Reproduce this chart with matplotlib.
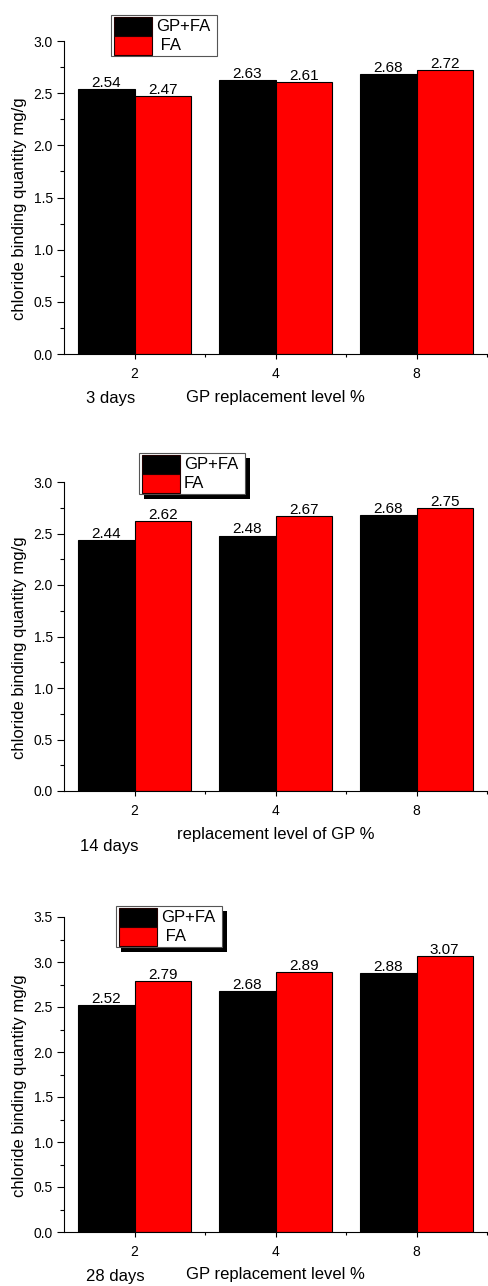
"""Chloride binding quantity vs GP replacement level at 3, 14 and 28 days."""

import numpy as np
import matplotlib.pyplot as plt
from matplotlib.patches import Rectangle
from matplotlib.ticker import MultipleLocator, FixedLocator, FormatStrFormatter

plt.rcParams['font.family'] = ['Liberation Sans', 'DejaVu Sans']

W, H = 488, 1286  # figure size in pixels (dpi 100)

LEVELS = ['2', '4', '8']
COLORS = {'GP+FA': '#000000', 'FA': '#ff0000'}

GPFA_3D = [2.54, 2.63, 2.68]
FA_3D = [2.47, 2.61, 2.72]

GPFA_14D = [2.44, 2.48, 2.68]
FA_14D = [2.62, 2.67, 2.75]

GPFA_28D = [2.52, 2.68, 2.88]
FA_28D = [2.79, 2.89, 3.07]

YLABEL = 'chloride binding quantity mg/g'

# layout of each panel, pixel units measured from the top-left corner
PANELS = [
    dict(gpfa=GPFA_3D, fa=FA_3D, top=41, bottom=354, ymax=3.0,
         legend=(111, 15), fa_label=' FA', shadow=False,
         xlabel='GP replacement level %', xlabel_pos=(186, 397),
         day='3 days', day_pos=(86, 399)),
    dict(gpfa=GPFA_14D, fa=FA_14D, top=482, bottom=791, ymax=3.0,
         legend=(139, 453), fa_label='FA', shadow=True,
         xlabel='replacement level of GP %', xlabel_pos=(177, 834),
         day='14 days', day_pos=(80, 846)),
    dict(gpfa=GPFA_28D, fa=FA_28D, top=917, bottom=1232, ymax=3.5,
         legend=(116, 906), fa_label=' FA', shadow=True,
         xlabel='GP replacement level %', xlabel_pos=(186, 1275),
         day='28 days', day_pos=(86, 1277)),
]

AX_LEFT, AX_RIGHT = 64, 487


def px(x, y):
    return x / W, 1 - y / H


def legend_box(fig, left, top, fa_label, shadow):
    # hand-built legend: frame, two swatches, labels
    w, h = 106, 41
    x0, y0 = px(left, top + h)
    fw, fh = w / W, h / H
    if shadow:
        sx, sy = px(left + 5, top + h + 5)
        fig.add_artist(Rectangle((sx, sy), fw, fh, transform=fig.transFigure,
                                 facecolor='k', edgecolor='k', lw=0))
    fig.add_artist(Rectangle((x0, y0), fw, fh, transform=fig.transFigure,
                             facecolor='white', edgecolor='#555555', lw=0.8))
    rows = [('GP+FA', 'GP+FA', top + 2), ('FA', fa_label, top + 21)]
    for key, label, ry in rows:
        rx, rb = px(left + 3, ry + 19)
        fig.add_artist(Rectangle((rx, rb), 38 / W, 19 / H, transform=fig.transFigure,
                                 facecolor=COLORS[key], edgecolor='#200000', lw=0.8))
        tx, ty = px(left + 45, ry + 9.5)
        fig.text(tx, ty, label, ha='left', va='center', fontsize=12)


def draw_panel(fig, p):
    ax = fig.add_axes([AX_LEFT / W, 1 - p['bottom'] / H,
                       (AX_RIGHT - AX_LEFT) / W, (p['bottom'] - p['top']) / H])
    x = np.arange(len(LEVELS))
    width = 0.4

    for offset, key, vals in [(-width / 2, 'GP+FA', p['gpfa']), (width / 2, 'FA', p['fa'])]:
        ax.bar(x + offset, vals, width, color=COLORS[key], edgecolor='k', linewidth=0.8)
        for xi, v in zip(x + offset, vals):
            ax.annotate(f'{v:.2f}', (xi, v), xytext=(0, 1.5), textcoords='offset points',
                        ha='center', va='baseline', fontsize=11)

    ax.set_xlim(-0.5, 2.5)
    ax.set_ylim(0, p['ymax'])
    for side in ('top', 'right'):
        ax.spines[side].set_visible(False)
    for side in ('left', 'bottom'):
        ax.spines[side].set_linewidth(0.8)

    ax.set_xticks(x, LEVELS)
    ax.xaxis.set_minor_locator(FixedLocator([0.5, 1.5, 2.5]))
    ax.yaxis.set_major_locator(MultipleLocator(0.5))
    ax.yaxis.set_minor_locator(MultipleLocator(0.25))
    ax.yaxis.set_major_formatter(FormatStrFormatter('%.1f'))
    ax.tick_params(axis='x', which='major', length=3.6, width=0.8, pad=6, labelsize=10)
    ax.tick_params(axis='x', which='minor', length=2.4, width=0.8)
    ax.tick_params(axis='y', which='major', length=5, width=0.8, pad=3, labelsize=10)
    ax.tick_params(axis='y', which='minor', length=3, width=0.8)

    # y label sits a little below the middle of the axis
    ax.set_ylabel(YLABEL, fontsize=12)
    h = p['bottom'] - p['top']
    ax.yaxis.set_label_coords(-0.088, 0.5 - 11 / h)

    fig.text(*px(*p['xlabel_pos']), p['xlabel'], ha='left', va='center', fontsize=12)
    fig.text(*px(*p['day_pos']), p['day'], ha='left', va='center', fontsize=12)
    legend_box(fig, *p['legend'], p['fa_label'], p['shadow'])


def main():
    fig = plt.figure(figsize=(W / 100, H / 100), dpi=100)
    for p in PANELS:
        draw_panel(fig, p)
    fig.savefig('out.png', dpi=100)
    plt.close(fig)


if __name__ == '__main__':
    main()
